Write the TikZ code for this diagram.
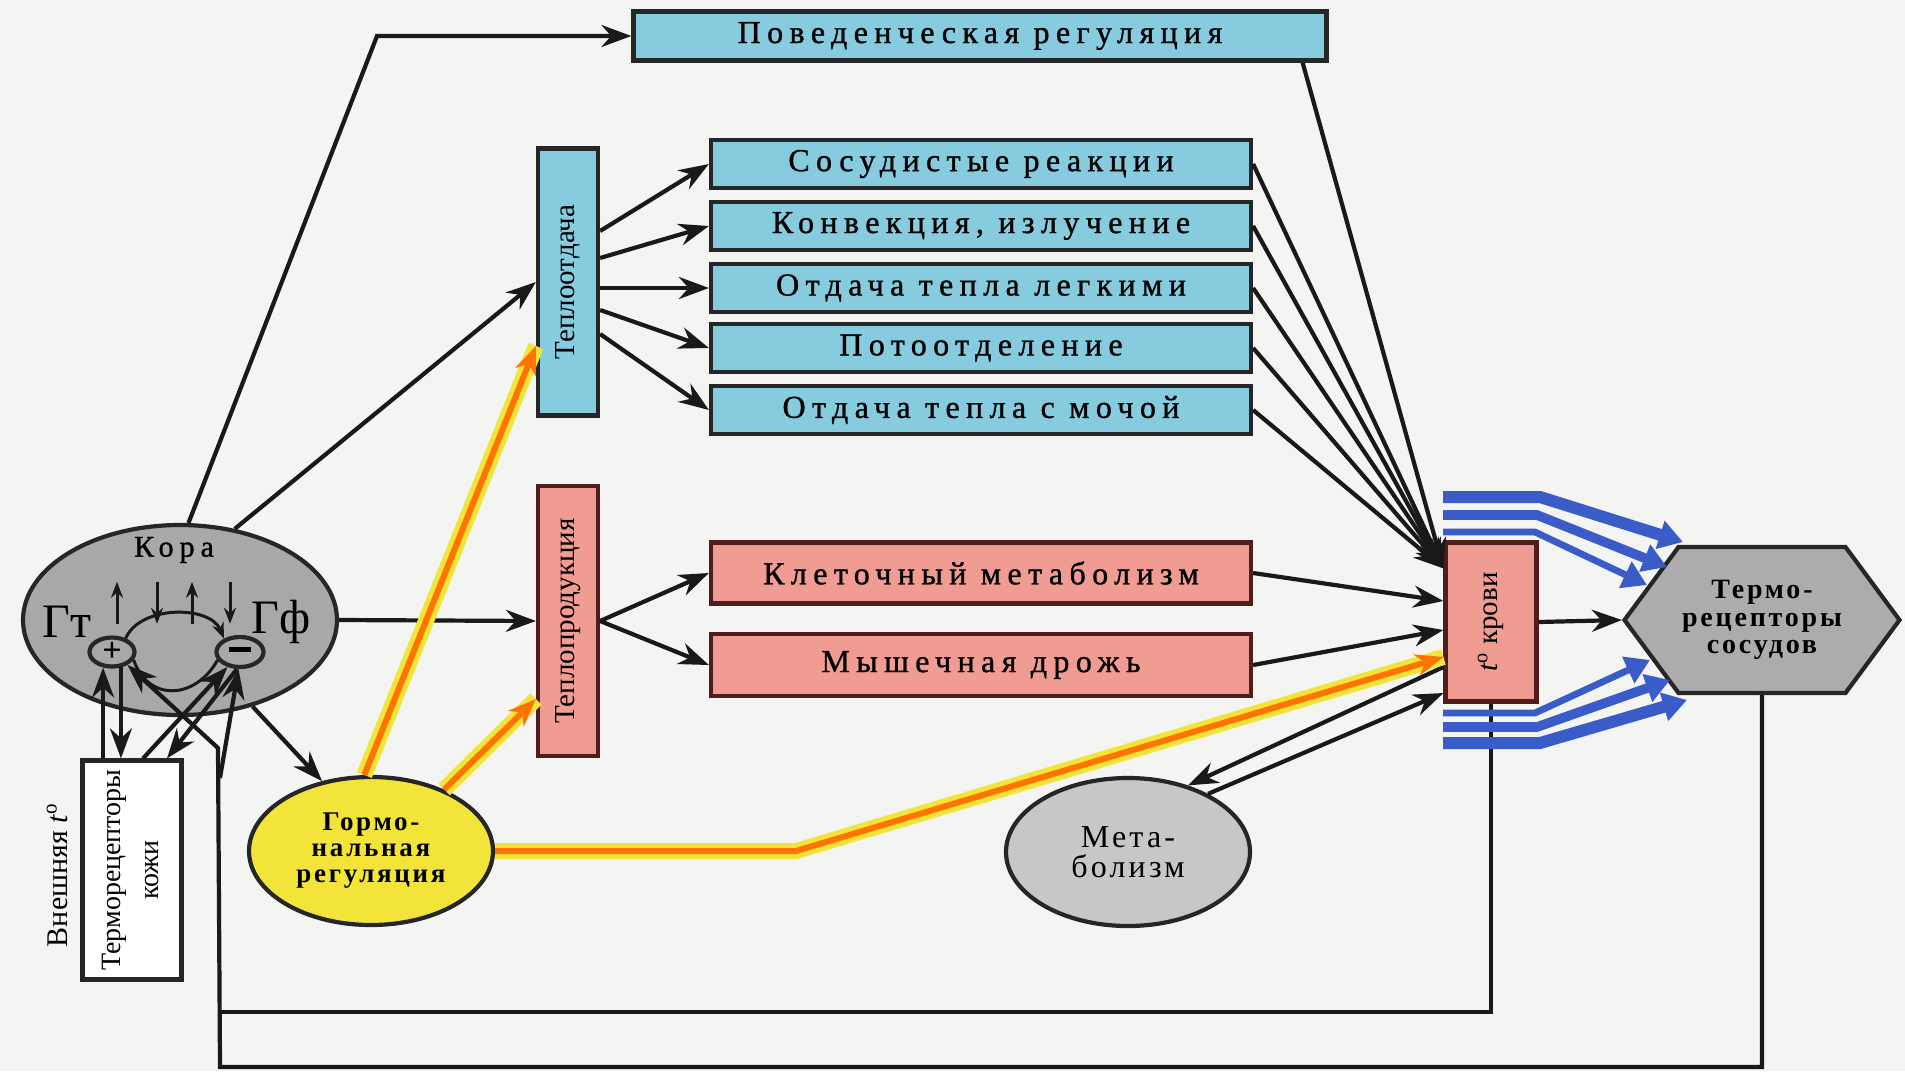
\documentclass[tikz,border=0pt]{standalone}
\usepackage{fontspec}
\usepackage{graphicx}
\setmainfont{Liberation Serif}
\newfontfamily\widefont[LetterSpace=20,FakeBold=1]{Liberation Serif}
\newfontfamily\roundfont[LetterSpace=10]{Liberation Serif}
\usetikzlibrary{arrows.meta,calc,shapes.geometric,shapes.symbols}

\definecolor{coolblue}{RGB}{134,204,222}
\definecolor{warmpink}{RGB}{240,156,146}
\definecolor{darkred}{RGB}{80,28,28}
\definecolor{hormyellow}{RGB}{242,228,56}
\definecolor{veinblue}{RGB}{58,92,200}
\definecolor{cortexgray}{RGB}{168,168,168}
\definecolor{paper}{RGB}{244,245,243}

\begin{document}
\begin{tikzpicture}
  [x=0.5pt,y=-0.5pt,line width=2.1pt,draw=black!90,
   arr/.style={-{Stealth[length=15pt,width=11pt]}},
   tiny/.style={-{Stealth[length=8pt,width=6pt]},line width=1.5pt},
   blue box/.style={draw=black!85,fill=coolblue,minimum width=270pt,minimum height=24pt,
     inner sep=0pt,font=\widefont\fontsize{16}{18}\selectfont},
   pink box/.style={blue box,draw=darkred,fill=warmpink},
   tall/.style={draw=black!85,fill=coolblue,minimum width=30pt,inner sep=0pt,
     font=\fontsize{14.5}{17}\selectfont},
   oval/.style={ellipse,draw=black!85,inner sep=0pt,align=center},
   horm/.style={draw=orange!90!red,line width=3pt,-{Stealth[length=14pt,width=11pt]},
     preaction={draw=hormyellow,line width=8pt,-}},
   vein/.style={draw=veinblue,-{Triangle[length=12pt,width=14pt]}}]

  \fill[paper] (0,0) rectangle (1905,1071);
  \useasboundingbox (0,0) rectangle (1905,1071);

  % boxes
  \node[blue box,minimum width=346.5pt,minimum height=24.5pt] (beh) at (980,36) {Поведенческая регуляция};
  \node[tall,minimum height=133.5pt] (tot) at (568,282) {\rotatebox{90}{Теплоотдача}};
  \node[blue box] (b1) at (981,164) {Сосудистые реакции};
  \node[blue box] (b2) at (981,226) {Конвекция, излучение};
  \node[blue box] (b3) at (981,288) {Отдача тепла легкими};
  \node[blue box] (b4) at (981,348) {Потоотделение};
  \node[blue box] (b5) at (981,410) {Отдача тепла с мочой};
  \node[tall,draw=darkred,fill=warmpink,minimum height=135pt] (tpr) at (568,621) {\rotatebox{90}{Теплопродукция}};
  \node[pink box,minimum height=30.5pt] (kl) at (981,573) {Клеточный метаболизм};
  \node[pink box,minimum height=31pt] (dr) at (981,665) {Мышечная дрожь};
  \node[tall,draw=darkred,fill=warmpink,minimum width=45.5pt,minimum height=79.5pt] (tk) at (1491,622)
    {\rotatebox{90}{\textit{t}\textsuperscript{o} крови}};
  \node[signal,signal to=west and east,signal pointer angle=107,draw=black!85,fill=cortexgray!95,
    minimum width=137.5pt,minimum height=73pt,inner sep=0pt,align=center,
    font=\roundfont\bfseries\fontsize{14}{13.6}\selectfont] (hex) at (1762,620) {Термо-\\рецепторы\\сосудов};

  % cortex
  \node[oval,fill=cortexgray,minimum width=157pt,minimum height=95pt] (kora) at (180,620) {};
  \node[font=\widefont\fontsize{15}{15}\selectfont] (kt) at (174,550) {Кора};
  \node[font=\fontsize{24}{24}\selectfont] (gt) at (67,622) {Гт};
  \node[font=\fontsize{24}{24}\selectfont] (gf) at (281,622) {Гф};
  \node[oval,fill=cortexgray,minimum width=22.5pt,minimum height=14.5pt,font=\fontsize{17}{17}\selectfont] (plus) at (112,652) {\textbf{+}};
  \node[oval,fill=cortexgray,minimum width=23.5pt,minimum height=15pt] (minus) at (240,652) {\rule[2.2pt]{11pt}{2.5pt}};
  \draw[tiny] ($(kt.south)+(-57,52)$) -- ++(0,-42);
  \draw[tiny] ($(kt.south)+(-17,10)$) -- ++(0,42);
  \draw[tiny] ($(kt.south)+(18,52)$) -- ++(0,-42);
  \draw[tiny] ($(kt.south)+(56,10)$) -- ++(0,42);
  \draw[tiny] (plus.45) .. controls (140,605) and (210,605) .. (minus.140);
  \draw[line width=1.5pt] (plus.-20) .. controls (148,702) and (195,700) .. (minus.-160);

  % other ovals
  \node[oval,fill=hormyellow,minimum width=122pt,minimum height=74pt,
    font=\roundfont\bfseries\fontsize{13.5}{13}\selectfont] (gorm) at (371,851) {Гормо-\\нальная\\регуляция};
  \node[oval,fill=black!22,minimum width=122pt,minimum height=74pt,
    font=\roundfont\fontsize{16}{15}\selectfont] (met) at (1128,852) {Мета-\\болизм};
  \node[draw=black!85,fill=white,minimum width=49.5pt,minimum height=109.5pt,inner sep=0pt,
    font=\fontsize{14}{19}\selectfont] (skin) at (132,870)
    {\rotatebox{90}{\begin{tabular}{@{}c@{}}Терморецепторы\\кожи\end{tabular}}};
  \node[font=\fontsize{15}{17}\selectfont] (ext) at (57,875) {\rotatebox{90}{Внешняя \textit{t}\textsuperscript{o}}};

  % coordinates
  \coordinate (c1) at (377,36);
  \coordinate (hc) at (796,851);
  \coordinate (tin) at ($(tk.north west)+(0,28)$);
  \coordinate (fbl) at (220,1067);
  \coordinate (fbm) at (220,1012);
  \coordinate (fbp) at (218,748);
  \coordinate (fbn) at (220,778);

  % from cortex
  \draw[arr] (kora.85) -- (c1) -- (beh.west);
  \draw[arr] (kora.59) -- (tot.west);
  \draw[arr] (kora.east) -- (tpr.west);
  \draw[arr] (kora.-50) -- (gorm.125);

  % skin receptors
  \draw[arr] (skin.north -| plus.-120) -- (plus.-120);
  \draw[arr] (plus.-60) -- (plus.-60 |- skin.north);
  \draw[arr] ($(skin.north)+(11,0)$) -- (minus.-130);
  \draw[arr] (minus.-100) -- ($(skin.north)+(35,0)$);

  % heat loss
  \draw[arr] ($(tot.east)+(0,-51)$) -- (b1.west);
  \draw[arr] ($(tot.east)+(0,-24)$) -- (b2.west);
  \draw[arr] ($(tot.east)+(0,6)$) -- (b3.west);
  \draw[arr] ($(tot.east)+(0,28)$) -- (b4.west);
  \draw[arr] ($(tot.east)+(0,52)$) -- (b5.west);

  % heat production
  \draw[arr] (tpr.east) -- (kl.west);
  \draw[arr] (tpr.east) -- (dr.west);

  % to blood temperature
  \draw[arr] ($(beh.south east)+(-26,0)$) -- (tin);
  \draw[arr] (b1.east) -- (tin);
  \draw[arr] (b2.east) -- (tin);
  \draw[arr] (b3.east) -- (tin);
  \draw[arr] (b4.east) -- (tin);
  \draw[arr] (b5.east) -- (tin);
  \draw[arr] (kl.east) -- ($(tk.west)+(0,-21)$);
  \draw[arr] (dr.east) -- ($(tk.west)+(0,8)$);
  \draw[arr] ($(tk.west)+(0,45)$) -- (met.48);
  \draw[arr] (met.36) -- ($(tk.west)+(0,71)$);
  \draw[arr] (tk.east) -- (hex.west);

  % hormones
  \draw[horm] (gorm.95) -- ($(tot.west)+(0,64)$);
  \draw[horm] (gorm.40) -- ($(tpr.west)+(0,78)$);
  \draw[horm] (gorm.east) -- (hc) -- ($(tk.west)+(0,35)$);

  % feedback
  \draw[arr] (hex.south) -- (hex.south |- fbl) -- (fbl) -- (fbp) -- (plus.-40);
  \draw (tk.south) -- (tk.south |- fbm) -- (fbm);
  \draw[arr] (fbn) -- (minus.-95);

  % vessels
  \draw[vein,line width=6pt] (1443,497) -- (1540,497) -- (1683,542);
  \draw[vein,line width=4.8pt] (1443,515) -- (1537,515) -- (1667,567);
  \draw[vein,line width=3.4pt] (1443,532) -- (1535,532) -- (1647,585);
  \draw[vein,line width=3.4pt] (1443,713) -- (1535,713) -- (1650,660);
  \draw[vein,line width=4.8pt] (1443,727) -- (1537,727) -- (1670,680);
  \draw[vein,line width=6pt] (1443,743) -- (1540,743) -- (1687,700);
\end{tikzpicture}
\end{document}
